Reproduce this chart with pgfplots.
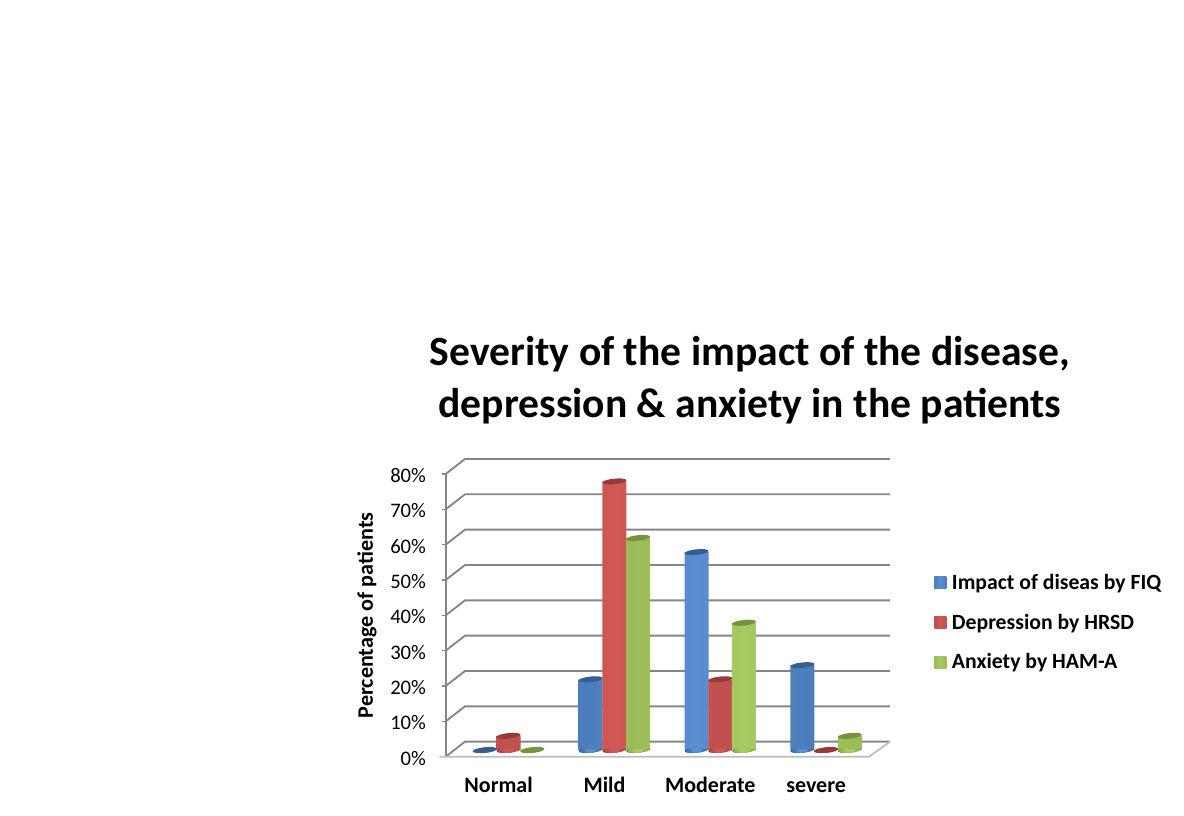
\documentclass[border=0pt]{standalone}
\usepackage{fontspec}
\setmainfont{Carlito}
\usepackage{pgfplots}
\usepackage{pgfplotstable}
\pgfplotsset{compat=1.18}
\newlength\px \setlength\px{0.75pt}
\definecolor{gridc}{HTML}{868686}
\definecolor{floorc}{HTML}{BDBDBD}
\definecolor{legblue}{HTML}{4F81BD}
\definecolor{legred}{HTML}{C0504D}
\definecolor{leggreen}{HTML}{9BBB59}
\definecolor{topblue}{HTML}{355F91}
\definecolor{topred}{HTML}{953B39}
\definecolor{topgreen}{HTML}{76923C}
\definecolor{ba}{HTML}{2F5688}\definecolor{bb}{HTML}{4576B4}\definecolor{bc}{HTML}{5A8ED0}\definecolor{bd}{HTML}{2C5180}
\definecolor{ra}{HTML}{8E3634}\definecolor{rb}{HTML}{B84D4A}\definecolor{rc}{HTML}{CF5855}\definecolor{rd}{HTML}{853331}
\definecolor{ga}{HTML}{6F8A3F}\definecolor{gb}{HTML}{96B655}\definecolor{gc}{HTML}{A6CA5F}\definecolor{gd}{HTML}{688239}
\pgfdeclarehorizontalshading{cylblue}{100bp}{color(0bp)=(ba);color(15bp)=(bb);color(50bp)=(bc);color(85bp)=(bb);color(100bp)=(bd)}
\pgfdeclarehorizontalshading{cylred}{100bp}{color(0bp)=(ra);color(15bp)=(rb);color(50bp)=(rc);color(85bp)=(rb);color(100bp)=(rd)}
\pgfdeclarehorizontalshading{cylgreen}{100bp}{color(0bp)=(ga);color(15bp)=(gb);color(50bp)=(gc);color(85bp)=(gb);color(100bp)=(gd)}
\newcommand\cylell[1]{\pgfpathellipse{\pgfpointorigin}{\pgfpoint{#1\px}{0.1*#1\px}}{\pgfpoint{-0.1\px}{2.8\px}}\pgfusepathqfill}
\pgfdeclareplotmark{cyltop}{\cylell{12}}
\newcommand\cylbottom[3]{\begin{pgfscope}\pgfpathrectanglecorners{\pgfpoint{-12\px}{-5\px}}{\pgfpoint{12\px}{0pt}}\pgfusepath{clip}\pgfsetfillcolor{#1}\cylell{12}\pgfsetfillcolor{#2}\cylell{10.5}\pgfsetfillcolor{#3}\cylell{6}\end{pgfscope}}
\pgfdeclareplotmark{botblue}{\cylbottom{ba}{bb}{bc}}
\pgfdeclareplotmark{botred}{\cylbottom{ra}{rb}{rc}}
\pgfdeclareplotmark{botgreen}{\cylbottom{ga}{gb}{gc}}
\pgfplotstableread{
x y
0 0
1 20
2 56
3 24
}\tblue
\pgfplotstableread{
x y
0 4
1 76
2 20
3 0
}\tred
\pgfplotstableread{
x y
0 0
1 60
2 36
3 4
}\tgreen
\pgfplotstableread{
x y
0 0
1 0
2 0
3 0
}\tbase
\begin{document}
\begin{tikzpicture}[x=1\px,y=1\px]
\path[use as bounding box,fill=white] (0,0) rectangle (1184,816);
\node[font=\fontsize{31.2}{31.2}\selectfont\bfseries,anchor=center] at (750,462) {Severity of the impact of the disease,};
\node[font=\fontsize{31.2}{31.2}\selectfont\bfseries,anchor=center] at (750,410) {depression \& anxiety in the patients};
\begin{axis}[
  at={(334.275pt,44.475pt)},anchor=south west,scale only axis,
  width=423.3\px,height=282.7\px,
  xmin=-0.5,xmax=3.5,ymin=0,ymax=80,clip=false,
  unbounded coords=jump,
  axis lines=left,axis line style={-},
  x axis line style={draw=none},
  y axis line style={draw=gridc,line width=1.4pt},
  xtick={0,1,2,3},xticklabels={Normal,Mild,Moderate,severe},
  ytick={0,10,...,80},
  yticklabel={\pgfmathprintnumber{\tick}\%},
  x tick style={draw=none},
  y tick style={draw=gridc,line width=1.1pt},
  tick align=outside,major tick length=4\px,
  xticklabel style={font=\fontsize{16.5}{16.5}\selectfont\bfseries,anchor=base,yshift=-32\px},
  yticklabel style={font=\fontsize{15.5}{15.5}\selectfont,/pgf/number format/assume math mode=true,xshift=-11\px,yshift=-1.5\px},
  ylabel={Percentage of patients},
  ylabel style={font=\fontsize{16.6}{16.6}\selectfont\bfseries},
  every axis y label/.append style={at={(axis description cs:-0.186,0.5)},anchor=center},
]
\addplot[draw=gridc,line width=1.4pt] coordinates {
(-0.5,80)(-0.3177,84.25)(3.699,84.25)(nan,nan)
(-0.5,70)(-0.3177,74.25)(3.699,74.25)(nan,nan)
(-0.5,60)(-0.3177,64.25)(3.699,64.25)(nan,nan)
(-0.5,50)(-0.3177,54.25)(3.699,54.25)(nan,nan)
(-0.5,40)(-0.3177,44.25)(3.699,44.25)(nan,nan)
(-0.5,30)(-0.3177,34.25)(3.699,34.25)(nan,nan)
(-0.5,20)(-0.3177,24.25)(3.699,24.25)(nan,nan)
(-0.5,10)(-0.3177,14.25)(3.699,14.25)(nan,nan)
(-0.5,0)(-0.3177,4.25)(3.699,4.25)
};
\addplot[draw=floorc,line width=1.3pt] coordinates {(-0.56,0)(3.5,0)(3.699,4.25)};
\end{axis}
\begin{axis}[
  at={(341.775pt,49.5pt)},anchor=south west,scale only axis,
  width=423.3\px,height=282.7\px,
  xmin=-0.5,xmax=3.5,ymin=0,ymax=80,clip=false,hide axis,
  legend style={at={(1.13,0.451)},anchor=west,draw=none,fill=none,inner sep=0pt,
    font=\fontsize{16.3}{16.3}\selectfont\bfseries,row sep=17\px,
    legend cell align=left,/tikz/column 1/.style={column sep=3\px}},
]
% blue
\addplot[forget plot,only marks,mark=botblue,mark options={xshift=-23.7\px}] table[x=x,y=y] {\tbase};
\addplot[ybar,/pgf/bar shift=-23.7\px,/pgf/bar width=24\px,draw=none,shade,shading=cylblue,restrict y to domain=0.1:100,
  legend image code/.code={\fill[legblue] (0,-6\px) rectangle (12\px,6\px);}] table[x=x,y=y] {\tblue};
\addlegendentry{Impact of diseas by FIQ}
\addplot[forget plot,only marks,mark=cyltop,color=topblue,mark options={xshift=-23.7\px,fill=topblue,draw=none}] table[x=x,y=y] {\tblue};
% red
\addplot[forget plot,only marks,mark=botred] table[x=x,y=y] {\tbase};
\addplot[ybar,/pgf/bar shift=0pt,/pgf/bar width=24\px,draw=none,shade,shading=cylred,restrict y to domain=0.1:100,
  legend image code/.code={\fill[legred] (0,-6\px) rectangle (12\px,6\px);}] table[x=x,y=y] {\tred};
\addlegendentry{Depression by HRSD}
\addplot[forget plot,only marks,mark=cyltop,color=topred,mark options={fill=topred,draw=none}] table[x=x,y=y] {\tred};
% green
\addplot[forget plot,only marks,mark=botgreen,mark options={xshift=23.7\px}] table[x=x,y=y] {\tbase};
\addplot[ybar,/pgf/bar shift=23.7\px,/pgf/bar width=24\px,draw=none,shade,shading=cylgreen,restrict y to domain=0.1:100,
  legend image code/.code={\fill[leggreen] (0,-6\px) rectangle (12\px,6\px);}] table[x=x,y=y] {\tgreen};
\addlegendentry{Anxiety by HAM-A}
\addplot[forget plot,only marks,mark=cyltop,color=topgreen,mark options={xshift=23.7\px,fill=topgreen,draw=none}] table[x=x,y=y] {\tgreen};
\end{axis}
\end{tikzpicture}
\end{document}
